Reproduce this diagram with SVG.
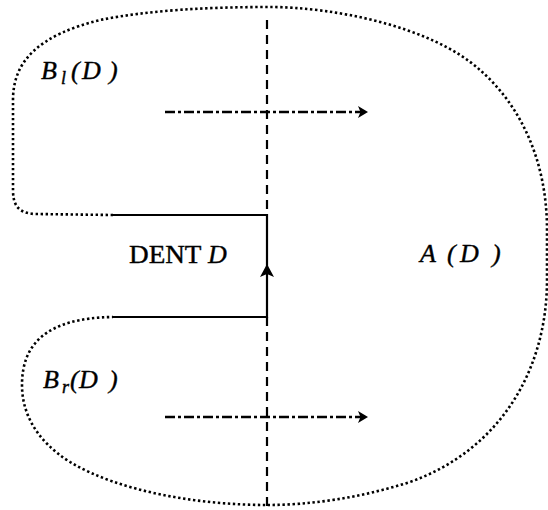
<svg xmlns="http://www.w3.org/2000/svg" width="548" height="510" viewBox="0 0 548 510">
<style>
.dot{fill:none;stroke:#000;stroke-width:2.6;stroke-dasharray:2.4 2.6}
.solid{fill:none;stroke:#000;stroke-width:2.2}
.dash{fill:none;stroke:#000;stroke-width:2.2;stroke-dasharray:9 6}
.dd{fill:none;stroke:#000;stroke-width:2.4;stroke-dasharray:10 3 3 3}
text{font-family:"Liberation Serif","Times New Roman",serif;font-size:26px;fill:#000;stroke:#000;stroke-width:0.4}
.it{font-style:italic}
</style>
<defs>
<marker id="ah" markerWidth="12" markerHeight="12" refX="9" refY="6" orient="auto" markerUnits="userSpaceOnUse">
<path d="M0,0 L10,6 L0,12 L2.5,6 Z" fill="#000"/>
</marker>
</defs>
<rect width="548" height="510" fill="#fff"/>
<g id="boundary">
<path class="dot" d="M113,215 L35,214 C18,213 13,205 13,190 L13,100 C13,60 40,35 100,20 C150,10 210,7 270,7 C330,7 430,25 480,70 C520,105 547,160 547,230 L547,280 C547,370 500,450 410,482 C360,498 310,505 267,505 C200,505 120,492 70,462 C35,440 22,412 22,385 C22,345 45,318 113,317"/>
<path class="solid" d="M113,215 L267,215 L267,317 L113,317"/>
</g>
<g id="connectors">
<line class="dash" x1="267" y1="20" x2="267" y2="215"/>
<line class="dash" x1="267" y1="317" x2="267" y2="508"/>
<path d="M267,264 L274,277 L267,274 L260,277 Z" fill="#000"/>
<line class="dd" x1="165" y1="112" x2="367" y2="112" marker-end="url(#ah)"/>
<line class="dd" x1="165" y1="417" x2="367" y2="417" marker-end="url(#ah)"/>
</g>
<g id="label-Bl"><text x="41" y="79" class="it">B<tspan font-size="18" x="61" dy="5">l</tspan><tspan x="71" dy="-5">(</tspan><tspan x="82">D</tspan><tspan x="109">)</tspan></text></g>
<g id="label-Br"><text x="43" y="388" class="it">B<tspan font-size="18" x="62" dy="5">r</tspan><tspan x="70" dy="-5">(</tspan><tspan x="79">D</tspan><tspan x="109">)</tspan></text></g>
<g id="label-dent"><text x="129" y="263"><tspan textLength="72" lengthAdjust="spacingAndGlyphs">DENT</tspan> <tspan class="it" x="208">D</tspan></text></g>
<g id="label-A"><text x="420" y="262" class="it">A<tspan x="447">(</tspan><tspan x="460">D</tspan><tspan x="492">)</tspan></text></g>
</svg>
